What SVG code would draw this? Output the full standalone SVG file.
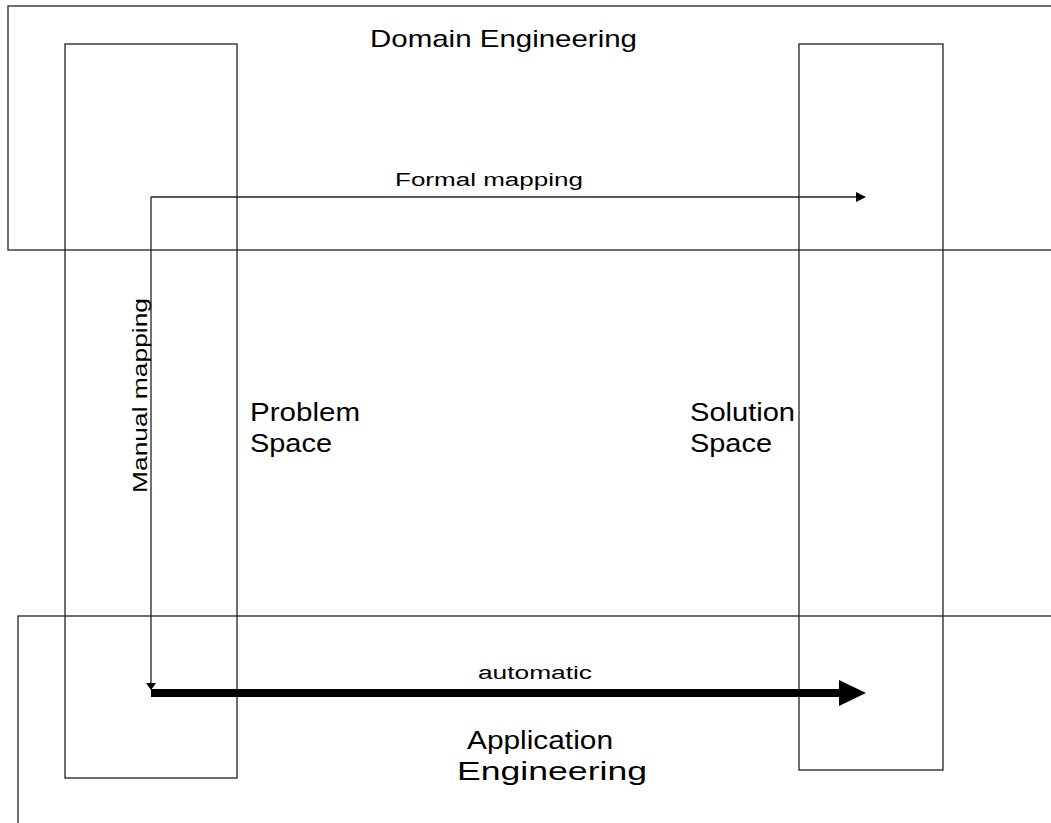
<svg xmlns="http://www.w3.org/2000/svg" width="1051" height="823" viewBox="0 0 1051 823">
<style>
.box{fill:none;stroke:#222;stroke-width:1.3}
.ln{fill:none;stroke:#222;stroke-width:1.3}
.hd{fill:#000;stroke:none}
text{font-family:"Liberation Sans",Arial,sans-serif;fill:#000}
</style>
<rect width="1051" height="823" fill="#fff"/>
<g id="domain-engineering">
<rect class="box" x="8" y="6" width="1100" height="244"/>
<text x="370" y="47" font-size="24" textLength="267" lengthAdjust="spacingAndGlyphs">Domain Engineering</text>
</g>
<g id="application-engineering">
<rect class="box" x="18" y="616" width="1100" height="300"/>
<text x="467" y="749" font-size="25" textLength="146" lengthAdjust="spacingAndGlyphs">Application</text>
<text x="457" y="780" font-size="25" textLength="190" lengthAdjust="spacingAndGlyphs">Engineering</text>
</g>
<g id="problem-space">
<rect class="box" x="65" y="44" width="172" height="734"/>
<text x="250" y="421" font-size="25" textLength="110" lengthAdjust="spacingAndGlyphs">Problem</text>
<text x="250" y="452" font-size="25" textLength="82" lengthAdjust="spacingAndGlyphs">Space</text>
</g>
<g id="solution-space">
<rect class="box" x="799" y="44" width="144" height="726"/>
<text x="690" y="421" font-size="25" textLength="105" lengthAdjust="spacingAndGlyphs">Solution</text>
<text x="690" y="452" font-size="25" textLength="82" lengthAdjust="spacingAndGlyphs">Space</text>
</g>
<g id="connectors">
<line class="ln" x1="151" y1="197" x2="857" y2="197"/>
<polygon class="hd" points="856,192 866,197 856,202"/>
<text x="395" y="186" font-size="18" textLength="188" lengthAdjust="spacingAndGlyphs">Formal mapping</text>
<line class="ln" x1="151" y1="197" x2="151" y2="684"/>
<polygon class="hd" points="146,683 156,683 151,690"/>
<text transform="translate(147,493) rotate(-90)" font-size="21" textLength="195" lengthAdjust="spacingAndGlyphs">Manual mapping</text>
<line x1="151" y1="693" x2="840" y2="693" stroke="#000" stroke-width="8"/>
<polygon class="hd" points="839,680 866,693 839,706"/>
<text x="478" y="679" font-size="18" textLength="114" lengthAdjust="spacingAndGlyphs">automatic</text>
</g>
</svg>
